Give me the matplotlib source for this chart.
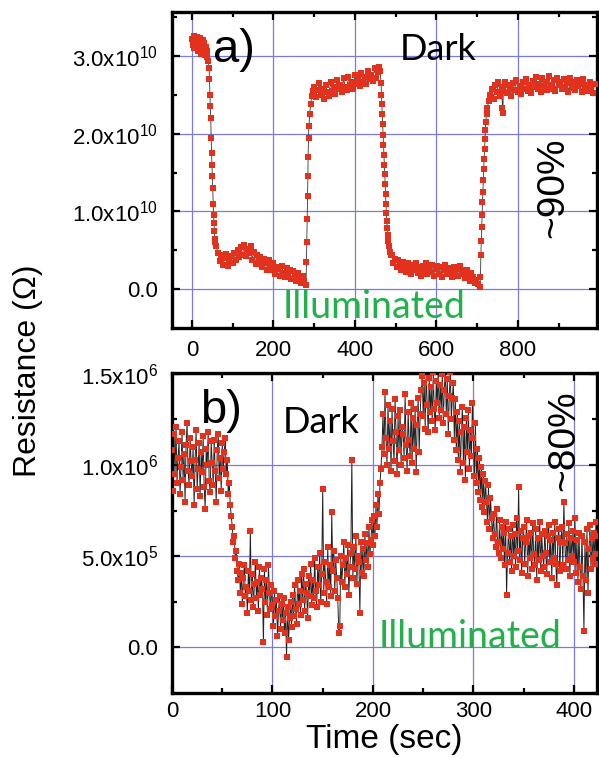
import numpy as np
import matplotlib
matplotlib.use("Agg")
import matplotlib.pyplot as plt

plt.rcParams['font.family'] = ['Liberation Sans', 'DejaVu Sans']
plt.rcParams['mathtext.default'] = 'regular'

# ---------------- panel a: resistance in units of 1e10 ohm ----------------
a_t_dark1 = np.arange(0, 41, 2)
a_r_dark1 = [3.22, 3.14, 3.25, 3.10, 3.20, 3.16, 3.24, 3.06, 3.19, 3.12, 3.23,
             3.03, 3.15, 3.21, 3.08, 3.17, 3.01, 3.11, 2.98, 3.06, 2.93]

a_t_fall1 = [42, 43, 44, 45, 46, 47, 48, 49, 50, 51, 52, 53, 54, 55, 56, 57]
a_r_fall1 = [2.85, 2.70, 2.50, 2.35, 2.20, 1.95, 1.75, 1.60, 1.45, 1.30, 1.10,
             0.95, 0.85, 0.75, 0.65, 0.60]

a_t_low1 = np.arange(60, 281, 4)
a_r_low1 = [0.55, 0.46, 0.36, 0.44, 0.31, 0.40, 0.45, 0.30, 0.38, 0.43,
            0.33, 0.46, 0.37, 0.50, 0.41, 0.54, 0.44, 0.57, 0.42, 0.52,
            0.46, 0.55, 0.38, 0.48, 0.32, 0.44, 0.36, 0.41, 0.28, 0.39,
            0.33, 0.25, 0.37, 0.30, 0.24, 0.34, 0.20, 0.29, 0.26, 0.17,
            0.30, 0.21, 0.15, 0.27, 0.19, 0.24, 0.13, 0.23, 0.18, 0.11,
            0.21, 0.14, 0.08, 0.17, 0.10, 0.05]

a_t_rise1 = [281, 282, 283, 284, 284.5, 285, 286, 287, 289, 291, 294, 297]
a_r_rise1 = [0.35, 0.60, 0.90, 1.20, 1.45, 1.70, 1.95, 2.10, 2.25, 2.38, 2.48, 2.55]

a_t_dark2 = np.arange(300, 461, 4)
a_r_dark2 = [2.60, 2.47, 2.56, 2.65, 2.50, 2.58, 2.45, 2.63, 2.54, 2.49,
             2.66, 2.55, 2.60, 2.51, 2.69, 2.57, 2.63, 2.53, 2.71, 2.60,
             2.56, 2.73, 2.62, 2.67, 2.58, 2.75, 2.64, 2.70, 2.61, 2.78,
             2.67, 2.73, 2.64, 2.81, 2.70, 2.76, 2.68, 2.84, 2.72, 2.79,
             2.86]

a_t_fall2 = [462, 464, 465, 466, 467, 468, 469, 470, 471, 472, 473, 474, 475,
             476, 477, 478, 479, 480, 482, 484, 486, 488]
a_r_fall2 = [2.80, 2.65, 2.50, 2.38, 2.25, 2.12, 1.98, 1.85, 1.72, 1.60, 1.48,
             1.35, 1.22, 1.10, 0.98, 0.88, 0.78, 0.70, 0.62, 0.55, 0.48, 0.44]

a_t_low2 = np.arange(490, 707, 4)
a_r_low2 = [0.44, 0.34, 0.39, 0.28, 0.37, 0.31, 0.24, 0.35, 0.29, 0.22,
            0.33, 0.26, 0.19, 0.31, 0.24, 0.34, 0.21, 0.28, 0.17, 0.30,
            0.23, 0.33, 0.19, 0.27, 0.22, 0.31, 0.17, 0.26, 0.30, 0.20,
            0.28, 0.16, 0.25, 0.31, 0.19, 0.27, 0.22, 0.15, 0.29, 0.21,
            0.26, 0.17, 0.30, 0.20, 0.24, 0.14, 0.25, 0.18, 0.11, 0.21,
            0.15, 0.08, 0.12, 0.06, 0.03]

a_t_rise2 = [708, 709, 710, 711, 712, 713, 714, 715, 716, 717, 718, 719, 720,
             721, 723, 725, 728]
a_r_rise2 = [0.15, 0.44, 0.62, 0.80, 0.95, 1.12, 1.25, 1.40, 1.55, 1.68, 1.80,
             1.93, 2.05, 2.15, 2.25, 2.33, 2.42]

a_t_dark3 = np.arange(732, 989, 4)
a_r_dark3 = [2.50, 2.58, 2.45, 2.62, 2.53, 2.66, 2.49, 2.60, 2.55, 2.67,
             2.52, 2.63, 2.58, 2.48, 2.65, 2.56, 2.69, 2.54, 2.61, 2.51,
             2.66, 2.58, 2.70, 2.55, 2.63, 2.52, 2.68, 2.60, 2.73, 2.57,
             2.64, 2.54, 2.71, 2.61, 2.67, 2.56, 2.74, 2.62, 2.58, 2.69,
             2.55, 2.72, 2.63, 2.67, 2.57, 2.70, 2.60, 2.65, 2.54, 2.71,
             2.59, 2.66, 2.56, 2.69, 2.61, 2.64, 2.53, 2.70, 2.58, 2.63,
             2.55, 2.67, 2.60, 2.52, 2.64]

a_t_dip = [762, 763]
a_r_dip = [2.33, 2.27]

# ---------------- panel b: resistance in units of 1e4 ohm, 1 s sampling ----------------
b_res = [
    108, 86, 117, 95, 121, 90, 104, 113, 84, 99,
    118, 92, 106, 80, 111, 123, 97, 89, 115, 102,
    94, 110, 78, 103, 119, 87, 98, 112, 83, 107,
    96, 116, 88, 76, 109, 100, 118, 91, 85, 113,
    101, 89, 114, 97, 80, 108, 117, 93, 104, 86,
    112, 98, 107, 115, 95, 103, 84, 90, 78, 72,
    66, 58, 61, 49, 53, 42, 37, 46, 30, 41,
    24, 38, 45, 28, 33, 19, 42, 31, 64, 26,
    40, 22, 35, 47, 27, 36, 20, 44, 29, 38,
    32, 3, 43, 25, 37, 18, 45, 30, 21, 34,
    23, 12, 31, 17, 26, 6, 20, 28, 10, 24,
    15, 27, 8, 19, -5, 22, 4, 16, 25, 11,
    29, 17, 34, 21, 13, 37, 24, 31, 18, 40,
    26, 43, 20, 35, 30, 16, 39, 28, 46, 23,
    37, 27, 49, 31, 22, 44, 34, 52, 25, 40,
    87, 30, 47, 36, 24, 55, 33, 45, 28, 74,
    42, 53, 31, 48, 38, 27, 8, 12, 50, 36,
    45, 58, 33, 49, 40, 56, 29, 44, 52, 103,
    38, 55, 43, 61, 35, 50, 47, 19, 58, 41,
    54, 39, 62, 48, 57, 44, 66, 51, 59, 70,
    56, 72, 61, 78, 66, 84, 73, 90, 98, 110,
    128, 106, 140, 115, 100, 133, 109, 124, 97, 131,
    113, 102, 136, 118, 95, 127, 108, 130, 100, 121,
    117, 104, 139, 111, 97, 129, 114, 105, 134, 101,
    126, 109, 131, 96, 122, 137, 107, 128, 141, 149,
    127, 145, 120, 152, 133, 118, 148, 129, 143, 124,
    151, 131, 119, 146, 134, 152, 126, 144, 130, 150,
    123, 141, 152, 128, 147, 117, 138, 151, 125, 137,
    145, 114, 136, 108, 129, 103, 124, 96, 118, 132,
    101, 121, 92, 126, 107, 130, 98, 119, 105, 134,
    115, 94, 123, 90, 109, 85, 104, 81, 99, 77,
    95, 74, 91, 80, 69, 89, 65, 82, 71, 60,
    73, 62, 55, 76, 58, 52, 70, 49, 66, 54,
    63, 45, 69, 29, 52, 65, 47, 61, 42, 67,
    50, 62, 44, 71, 53, 88, 48, 64, 41, 60,
    66, 46, 58, 70, 39, 61, 49, 63, 43, 68,
    51, 45, 65, 37, 60, 48, 69, 42, 62, 50,
    44, 64, 52, 40, 61, 67, 47, 59, 38, 63,
    49, 69, 46, 34, 60, 65, 42, 58, 66, 45,
    80, 57, 43, 62, 48, 68, 39, 60, 50, 64,
    47, 71, 41, 59, 36, 63, 44, 32, 61, 39,
    9, 58, 37, 65, 30, 54, 67, 43, 60, 49,
    63, 46, 69, 51, 61,
]

# tick positions and labels
a_xticks = [0, 200, 400, 600, 800]
a_yticks = [0.0, 1e10, 2e10, 3e10]
a_ylabels = ['0.0', '1.0x10$^{10}$', '2.0x10$^{10}$', '3.0x10$^{10}$']
b_xticks = [0, 100, 200, 300, 400]
b_yticks = [0.0, 5e5, 1e6, 1.5e6]
b_ylabels = ['0.0', '5.0x10$^{5}$', '1.0x10$^{6}$', '1.5x10$^{6}$']

RED = '#e2321e'
GRID = '#7a7ae0'
GREEN = '#22b04b'

# assemble panel a
a_t = np.concatenate([a_t_dark1, a_t_fall1, a_t_low1, a_t_rise1, a_t_dark2,
                      a_t_fall2, a_t_low2, a_t_rise2, a_t_dark3, a_t_dip]).astype(float)
a_r = np.concatenate([a_r_dark1, a_r_fall1, a_r_low1, a_r_rise1, a_r_dark2,
                      a_r_fall2, a_r_low2, a_r_rise2, a_r_dark3, a_r_dip]) * 1e10
order = np.argsort(a_t, kind='stable')
a_t, a_r = a_t[order], a_r[order]

b_t = np.arange(len(b_res))
b_r = np.array(b_res) * 1e4

fig = plt.figure(figsize=(5.99, 7.58), dpi=100)
W, H = 599, 758
ax_a = fig.add_axes([172 / W, 1 - 328 / H, 425 / W, 316 / H])
ax_b = fig.add_axes([172 / W, 1 - 693 / H, 425 / W, 320 / H])


def style(ax):
    for s in ax.spines.values():
        s.set_linewidth(2.4)
    ax.tick_params(which='both', direction='in', top=True, right=True,
                   width=1.6, labelsize=16)
    ax.tick_params(which='major', length=6)
    ax.tick_params(which='minor', length=3.5)
    ax.grid(True, which='major', color=GRID, linewidth=0.9)
    ax.set_axisbelow(True)


# panel a
ax_a.plot(a_t, a_r, '-', color='#333333', lw=0.6, zorder=2)
ax_a.plot(a_t, a_r, 's', color=RED, ms=4.0, mew=0, zorder=3)
ax_a.set_xlim(-49, 994)
ax_a.set_ylim(-0.5e10, 3.565e10)
ax_a.set_xticks(a_xticks)
ax_a.set_xticks(np.arange(100, 1000, 200), minor=True)
ax_a.set_yticks(a_yticks, a_ylabels)
ax_a.set_yticks([0.5e10, 1.5e10, 2.5e10, 3.5e10], minor=True)
style(ax_a)
ax_a.tick_params(axis='x', which='both', pad=9)
ax_a.tick_params(axis='y', which='both', pad=10)

ax_a.text(0.096, 0.842, 'a)', transform=ax_a.transAxes, fontsize=34,
          ha='left', va='baseline')
ax_a.text(0.536, 0.848, 'Dark', transform=ax_a.transAxes, fontsize=26,
          family=['Lato', 'DejaVu Sans'], ha='left', va='baseline')
ax_a.text(0.261, 0.032, 'Illuminated', transform=ax_a.transAxes, fontsize=27,
          family=['Lato', 'DejaVu Sans'], color=GREEN, ha='left', va='baseline')
ax_a.text(0.896, 0.443, '~90%', transform=ax_a.transAxes, fontsize=28,
          rotation=90, ha='center', va='center')

# panel b
ax_b.plot(b_t, b_r, '-', color='#222222', lw=0.7, zorder=2)
ax_b.plot(b_t, b_r, 's', color=RED, ms=4.6, mew=0, zorder=3)
ax_b.set_xlim(0, 423)
ax_b.set_ylim(-0.2e6, 1.505e6)
ax_b.set_xticks(b_xticks)
ax_b.set_xticks(np.arange(50, 450, 100), minor=True)
ax_b.set_yticks(b_yticks, b_ylabels)
ax_b.set_yticks([-0.25e6, 0.25e6, 0.75e6, 1.25e6], minor=True)
style(ax_b)
ax_b.tick_params(axis='x', which='both', pad=6)
ax_b.tick_params(axis='y', which='both', pad=10)
ax_b.set_xlabel('Time (sec)', fontsize=24, labelpad=1)

ax_b.text(0.066, 0.844, 'b)', transform=ax_b.transAxes, fontsize=34,
          ha='left', va='baseline')
ax_b.text(0.261, 0.8125, 'Dark', transform=ax_b.transAxes, fontsize=26,
          family=['Lato', 'DejaVu Sans'], ha='left', va='baseline')
ax_b.text(0.485, 0.141, 'Illuminated', transform=ax_b.transAxes, fontsize=27,
          family=['Lato', 'DejaVu Sans'], color=GREEN, ha='left', va='baseline')
ax_b.text(0.922, 0.7875, '~80%', transform=ax_b.transAxes, fontsize=28,
          rotation=90, ha='center', va='center')

fig.text(28 / W, 1 - 371 / H, 'Resistance (\u03a9)', fontsize=23, rotation=90,
         ha='center', va='center')

fig.savefig('out.png', dpi=100)
